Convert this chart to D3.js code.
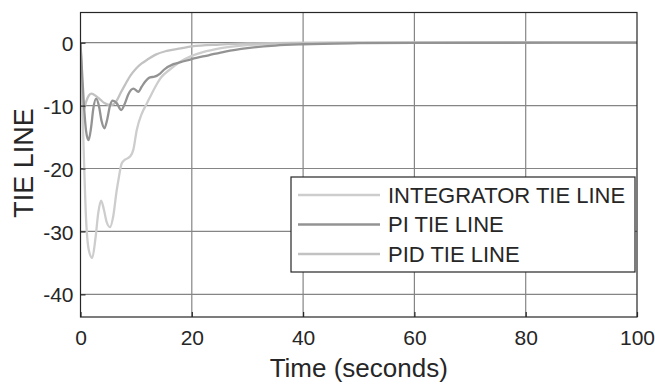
<!DOCTYPE html>
<html>
<head>
<meta charset="utf-8">
<script src="https://cdn.jsdelivr.net/npm/d3@7"></script>
<style>
  body { margin: 0; background: #fff; }
  svg { display: block; font-family: "Liberation Sans", Arial, sans-serif; }
</style>
</head>
<body>
<div id="chart"></div>
<script>
// series
var piTime = [0, 0.3, 0.7, 1.0, 1.45, 1.9, 2.3, 2.8, 3.3, 3.8, 4.3, 4.8, 5.3, 5.8, 6.5, 7.3, 8.0, 8.6, 9.5, 10.4, 11.0, 11.6, 12.5, 13.3, 14.3, 15.0, 16.7, 18, 20, 23, 26, 30, 35, 40, 50, 60, 100];
var piValue = [0, -5, -11, -14, -15.5, -13.5, -10.5, -8.9, -10, -12.5, -13.6, -12.2, -10, -9.2, -9.6, -10.7, -9.6, -8.2, -7.3, -7.8, -7.0, -6.2, -5.5, -5.4, -4.9, -4.3, -3.4, -3.1, -2.6, -2.0, -1.4, -0.85, -0.45, -0.25, -0.08, -0.02, 0];

var pidTime = [0, 0.3, 0.6, 1.0, 1.5, 2.0, 2.8, 3.5, 4.3, 5.2, 5.9, 6.5, 7.2, 8.0, 9.0, 10.0, 11.0, 12.0, 13.5, 15.5, 18, 20, 25, 30, 40, 50, 100];
var pidValue = [0, -7, -10.6, -9.4, -8.4, -8.1, -8.5, -9.0, -9.6, -9.9, -9.8, -9.2, -8.0, -6.7, -5.2, -4.1, -3.3, -2.7, -1.9, -1.3, -0.9, -0.6, -0.3, -0.12, -0.03, 0, 0];

var intTime = [0, 0.5, 1.0, 1.5, 2.1, 2.7, 3.2, 3.7, 4.2, 4.7, 5.3, 5.9, 6.5, 6.8, 7.4, 8.0, 8.9, 9.5, 10.1, 11.0, 11.9, 12.8, 13.7, 14.5, 16, 18, 20, 22, 25, 30, 35, 40, 50, 100];
var intValue = [0, -15, -28, -33, -34.2, -31, -27, -25.1, -26.5, -28.5, -29.3, -27.5, -23.5, -21.9, -19.2, -18.6, -18.1, -17.0, -13.9, -11.3, -9.7, -8.1, -6.6, -5.5, -4.3, -3.0, -2.1, -1.5, -0.9, -0.4, -0.15, -0.05, 0, 0];

var xTicks = [0, 20, 40, 60, 80, 100];
var yTicks = [-40, -30, -20, -10, 0];
var legendNames = ["INTEGRATOR TIE LINE", "PI TIE LINE", "PID TIE LINE"];
var lineColors = ["#cdcdcd", "#939393", "#c2c2c2"];

var width = 655, height = 385;
var margin = {left: 80.5, right: 18, top: 12.5, bottom: 68};

var svg = d3.select("#chart").append("svg")
    .attr("width", width)
    .attr("height", height);

var x = d3.scaleLinear().domain([0, 100]).range([margin.left, width - margin.right]);
var y = d3.scaleLinear().domain([-43.6, 4.8]).range([height - margin.bottom, margin.top]);

svg.append("clipPath").attr("id", "plot-clip")
    .append("rect")
    .attr("x", x(0)).attr("y", y(4.8))
    .attr("width", x(100) - x(0)).attr("height", y(-43.6) - y(4.8));

// grid
var grid = svg.append("g").attr("stroke", "#858585").attr("stroke-width", 1.2);
grid.selectAll("line.gx").data(xTicks.slice(1, -1)).enter().append("line")
    .attr("x1", d => x(d)).attr("x2", d => x(d))
    .attr("y1", y(4.8)).attr("y2", y(-43.6));
grid.selectAll("line.gy").data(yTicks).enter().append("line")
    .attr("x1", x(0)).attr("x2", x(100))
    .attr("y1", d => y(d)).attr("y2", d => y(d));

// curves
var series = [
    {time: intTime, value: intValue},
    {time: piTime, value: piValue},
    {time: pidTime, value: pidValue}
];

var line = d3.line()
    .x(d => x(d[0]))
    .y(d => y(d[1]))
    .curve(d3.curveMonotoneX);

var drawOrder = [0, 2, 1];
svg.append("g").attr("clip-path", "url(#plot-clip)")
    .selectAll("path").data(drawOrder).enter().append("path")
    .attr("fill", "none")
    .attr("stroke", i => lineColors[i])
    .attr("stroke-width", 2.3)
    .attr("stroke-linejoin", "round")
    .attr("d", i => line(series[i].time.map((t, k) => [t, series[i].value[k]])));

// frame and ticks
svg.append("rect")
    .attr("x", x(0)).attr("y", y(4.8))
    .attr("width", x(100) - x(0)).attr("height", y(-43.6) - y(4.8))
    .attr("fill", "none").attr("stroke", "#262626").attr("stroke-width", 1.2);

var xAxis = svg.append("g")
    .attr("transform", "translate(0," + y(-43.6) + ")")
    .call(d3.axisBottom(x).tickValues(xTicks).tickSizeInner(-5).tickSizeOuter(0)
        .tickFormat(d => String(d)));
var yAxis = svg.append("g")
    .attr("transform", "translate(" + x(0) + ",0)")
    .call(d3.axisLeft(y).tickValues(yTicks).tickSizeInner(-5).tickSizeOuter(0)
        .tickFormat(d => String(d)));

[xAxis, yAxis].forEach(function (a) {
    a.select(".domain").remove();
    a.selectAll(".tick line").attr("stroke", "#262626").attr("stroke-width", 1.2);
    a.selectAll(".tick text")
        .attr("fill", "#262626")
        .style("font-size", "21px")
        .style("font-family", "'Liberation Sans', Arial, sans-serif");
});
yAxis.selectAll(".tick text").attr("x", -7).attr("dy", "0.36em");
xAxis.selectAll(".tick text").attr("y", 28).attr("dy", null);

// axis titles
svg.append("text")
    .attr("x", (x(0) + x(100)) / 2)
    .attr("y", 377)
    .attr("text-anchor", "middle")
    .attr("fill", "#262626")
    .style("font-size", "26px")
    .text("Time (seconds)");

svg.append("text")
    .attr("transform", "translate(33,163) rotate(-90)")
    .attr("text-anchor", "middle")
    .attr("fill", "#262626")
    .style("font-size", "27px")
    .text("TIE LINE");

// legend
var legend = svg.append("g");
legend.append("rect")
    .attr("x", 291).attr("y", 177)
    .attr("width", 344).attr("height", 95)
    .attr("fill", "#fff").attr("stroke", "#262626").attr("stroke-width", 1.2);

var rows = legend.selectAll("g.row").data(legendNames).enter().append("g")
    .attr("class", "row")
    .attr("transform", (d, i) => "translate(0," + (195 + i * 29.5) + ")");
rows.append("line")
    .attr("x1", 298).attr("x2", 380)
    .attr("stroke", (d, i) => lineColors[i])
    .attr("stroke-width", 2.3);
rows.append("text")
    .attr("x", 388).attr("dy", "0.36em")
    .attr("fill", "#262626")
    .style("font-size", "22px")
    .text(d => d);
</script>
</body>
</html>
